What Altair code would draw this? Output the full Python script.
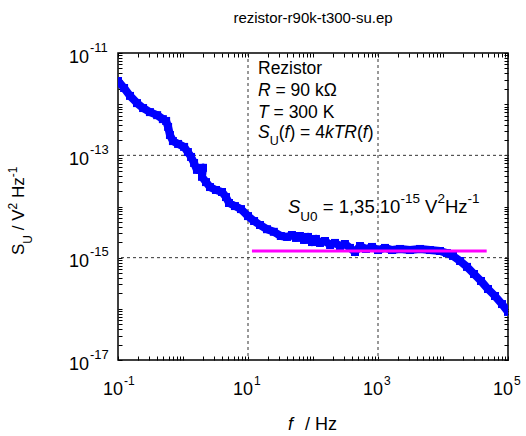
import altair as alt
import pandas as pd

# ---------------- data ----------------
freq = [0.1, 0.124, 0.153, 0.196, 0.243, 0.31, 0.40, 0.49, 0.55, 0.59, 0.63, 0.70,
        0.84, 1.04, 1.19, 1.33, 1.48, 1.64, 1.83, 2.03, 1.96, 2.26, 2.6, 3.22, 3.98,
        4.59, 5.1, 6.3, 7.8, 10, 12.4, 15.3, 19.6, 25, 32, 40, 47.5, 54.7, 63, 72.7,
        83.8, 96.5, 111, 128, 153, 183, 218, 260, 310, 371, 443, 528, 653, 809, 1000,
        1282, 1641, 2178, 3105, 4430, 6300, 9000, 11500, 14260, 18300, 23400, 30000,
        38400, 49200, 63100, 80900, 100000]
su = [2.84e-12, 2.07e-12, 1.45e-12, 1.05e-12, 8.4e-13, 7.0e-13, 6.1e-13, 5.1e-13,
      4.7e-13, 3.6e-13, 2.5e-13, 1.9e-13, 1.67e-13, 1.46e-13, 1.16e-13, 9.3e-14,
      7.1e-14, 5.2e-14, 5.2e-14, 5.7e-14, 3.8e-14, 3.0e-14, 2.4e-14, 2.1e-14,
      1.92e-14, 1.53e-14, 1.17e-14, 1.02e-14, 8.9e-15, 6.5e-15, 5.2e-15, 4.35e-15,
      3.6e-15, 3.2e-15, 2.65e-15, 2.54e-15, 2.77e-15, 2.43e-15, 2.65e-15, 2.22e-15,
      2.54e-15, 2.02e-15, 2.32e-15, 1.94e-15, 2.12e-15, 1.77e-15, 1.94e-15, 1.69e-15,
      1.85e-15, 1.55e-15, 1.29e-15, 1.69e-15, 1.48e-15, 1.62e-15, 1.41e-15, 1.55e-15,
      1.41e-15, 1.48e-15, 1.41e-15, 1.48e-15, 1.41e-15, 1.35e-15, 1.23e-15, 1.08e-15,
      8.6e-16, 6.6e-16, 4.8e-16, 3.5e-16, 2.44e-16, 1.78e-16, 1.24e-16, 8.7e-17]

fit_f = [11.5, 47000]
fit_s = [1.35e-15, 1.35e-15]

grid_f = [10, 1000]
grid_s = [1e-13, 1e-15]

xtick_vals = [0.1, 10, 1000, 100000]
xtick_exp = ["-1", "1", "3", "5"]
ytick_vals = [1e-11, 1e-13, 1e-15, 1e-17]
ytick_exp = ["-11", "-13", "-15", "-17"]

minor_x = [m * 10.0 ** k for k in range(-1, 5) for m in range(1, 10)] + [1e5]
minor_y = [m * 10.0 ** k for k in range(-17, -11) for m in range(1, 10)] + [1e-11]

title_text = "rezistor-r90k-t300-su.ep"

# ---------------- helpers ----------------
FONT = "Liberation Sans"
XS = alt.Scale(type="log", domain=[0.1, 1e5], nice=False)
YS = alt.Scale(type="log", domain=[1e-17, 1e-11], nice=False)

W = {' ': 0.278, '/': 0.278, '(': 0.333, ')': 0.333, '=': 0.584, ',': 0.278,
     '.': 0.278, '-': 0.333, 'S': 0.667, 'U': 0.722, 'V': 0.667, 'H': 0.722,
     'z': 0.5, 'R': 0.722, 'T': 0.611, 'K': 0.667, 'k': 0.5, 'f': 0.278,
     'e': 0.556, 'i': 0.222, 's': 0.5, 't': 0.278, 'o': 0.556, 'r': 0.333,
     'Ω': 0.768}


def tw(s, size):
    return sum(W.get(c, 0.556) for c in s) * size


def X(axis=None):
    return alt.X("x:Q", scale=XS, axis=axis)


def Y(axis=None):
    return alt.Y("y:Q", scale=YS, axis=axis)


def piece(x, y, text, size, dx, dy, italic=False, align="left", angle=0):
    df = pd.DataFrame({"x": [x], "y": [y]})
    kw = dict(text=text, fontSize=size, dx=dx, dy=dy, align=align,
              baseline="alphabetic", font=FONT, color="black")
    if italic:
        kw["fontStyle"] = "italic"
    if angle:
        kw["angle"] = angle
    return alt.Chart(df).mark_text(**kw).encode(x=X(), y=Y())


def rich(x, y, dx0, dy0, parts, angle=0):
    layers = []
    d = dx0
    for text, size, italic, shift in parts:
        body = text.lstrip(" ")
        lead = tw(text[:len(text) - len(body)], size)
        if body:
            layers.append(piece(x, y, body, size, d + lead, dy0 + shift, italic,
                                angle=angle))
        d += tw(text, size)
    return layers


def tick_axis(orient, values):
    return alt.Axis(orient=orient, values=values, labels=False, domain=False,
                    grid=False, ticks=True, tickSize=4, offset=-4,
                    tickColor="black", tickWidth=1, title=None)


# ---------------- layers ----------------
layers = []

gx = alt.Chart(pd.DataFrame({"x": grid_f})).mark_rule(
    color="#333333", strokeWidth=1, strokeDash=[3, 3]).encode(x=X())
gy = alt.Chart(pd.DataFrame({"y": grid_s})).mark_rule(
    color="#333333", strokeWidth=1, strokeDash=[3, 3]).encode(y=Y())
layers += [gx, gy]

df = pd.DataFrame({"x": freq, "y": su, "i": list(range(len(freq)))})
line = alt.Chart(df).mark_line(color="#0000ff", strokeWidth=8, strokeJoin="round",
                               clip=True).encode(
    x=X(tick_axis("bottom", minor_x)), y=Y(tick_axis("left", minor_y)),
    order="i:Q")
squares = alt.Chart(df).mark_square(size=64, color="#0000ff", opacity=1,
                                    clip=True).encode(
    x=X(tick_axis("top", minor_x)), y=Y(tick_axis("right", minor_y)))
layers += [line, squares]

fit = alt.Chart(pd.DataFrame({"x": fit_f, "y": fit_s})).mark_line(
    color="#ff00ff", strokeWidth=3).encode(x=X(), y=Y())
layers.append(fit)

# tick labels
xt = pd.DataFrame({"x": xtick_vals, "y": [1e-17] * 4, "e": xtick_exp})
layers.append(alt.Chart(xt).mark_text(text="10", fontSize=18, font=FONT, align="right",
                                      baseline="alphabetic", dx=5, dy=35,
                                      color="black").encode(x=X(), y=Y()))
layers.append(alt.Chart(xt).mark_text(fontSize=12, font=FONT, align="left",
                                      baseline="alphabetic", dx=6, dy=25,
                                      color="black").encode(x=X(), y=Y(), text="e:N"))
yt = pd.DataFrame({"x": [0.1] * 4, "y": ytick_vals, "e": ytick_exp})
layers.append(alt.Chart(yt).mark_text(text="10", fontSize=18, font=FONT, align="right",
                                      baseline="alphabetic", dx=-29, dy=9.5,
                                      color="black").encode(x=X(), y=Y()))
layers.append(alt.Chart(yt).mark_text(fontSize=13, font=FONT, align="left",
                                      baseline="alphabetic", dx=-28, dy=-1.5,
                                      color="black").encode(x=X(), y=Y(), text="e:N"))

# title
layers.append(piece(100, 1e-11, title_text, 15, 0, -30.5, align="center"))

# axis titles
layers.append(piece(100, 1e-17, "f", 18, -25, 70, italic=True))
layers.append(piece(100, 1e-17, "/ Hz", 18, -8, 70))
layers += rich(0.1, 1e-14, -48.5, -94,
               [("S", 17, False, 0), ("U", 12, False, 8), (" / V", 17, False, 0),
                ("2", 12, False, -7), (" Hz", 17, False, 0), ("-1", 12, False, -7)],
               angle=270)

# annotation box
BS = 17.5
layers.append(piece(10, 1e-11, "Rezistor", BS, 10, 21.3))
layers += rich(10, 1e-11, 10, 42.7, [("R", BS, True, 0), (" = 90 kΩ", BS, False, 0)])
layers += rich(10, 1e-11, 10, 65.3, [("T", BS, True, 0), (" = 300 K", BS, False, 0)])
layers += rich(10, 1e-11, 10, 85.3,
               [("S", BS, True, 0), ("U", 12.5, False, 6.5), ("(", BS, False, 0),
                ("f", BS, True, 0), (") = 4", BS, False, 0), ("kTR", BS, True, 0),
                ("(", BS, False, 0), ("f", BS, True, 0), (")", BS, False, 0)])

# S_U0 label
layers += rich(10, 1e-14, 40, 6.8,
               [("S", 18.5, True, 0), ("U0", 13.5, False, 7.5),
                (" = 1,35.10", 18.5, False, 0), ("-15", 13.5, False, -10),
                (" V", 18.5, False, 0), ("2", 13.5, False, -10),
                ("Hz", 18.5, False, 0), ("-1", 13.5, False, -10)])

chart = alt.layer(*layers).resolve_axis(x="independent", y="independent").properties(
    width=390, height=307,
    autosize=alt.AutoSizeParams(type="none"),
    padding={"left": 118, "top": 53, "right": 18, "bottom": 76},
    background="white",
).configure_view(stroke="black", strokeWidth=1.5)

chart.save("out.html", embed_options={"renderer": "svg", "actions": False})
